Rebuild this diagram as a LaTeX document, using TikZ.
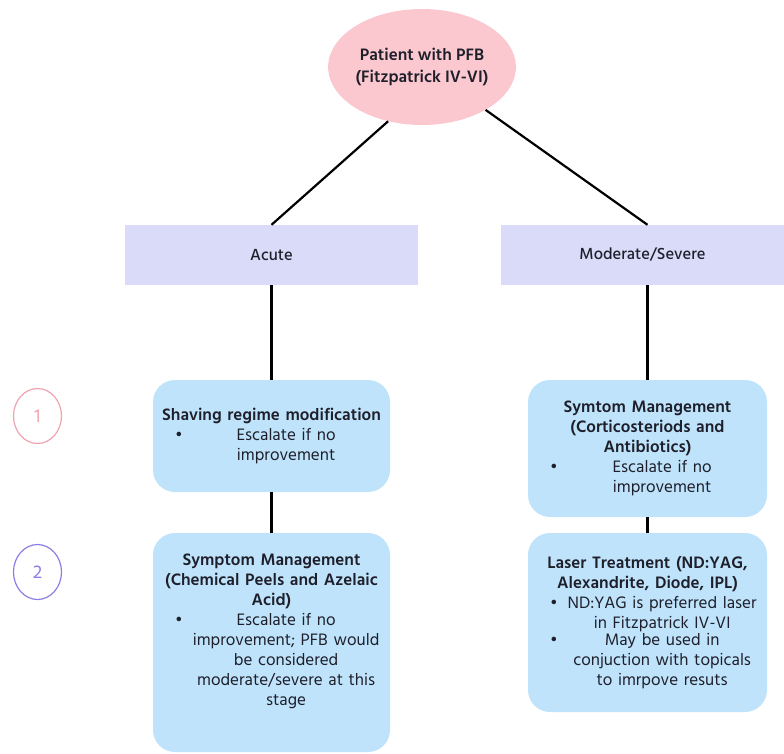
\documentclass[tikz,border=0pt]{standalone}
\usepackage{fontspec}
\setmainfont{Hind Siliguri}
\newfontfamily\stagefont{Hind Siliguri Medium}
\usetikzlibrary{shapes.geometric}

\definecolor{pfbpink}{HTML}{FAC8CE}
\definecolor{stagelav}{HTML}{D9DBF8}
\definecolor{stepblue}{HTML}{BEE3FA}
\definecolor{onepink}{HTML}{EFA3AF}
\definecolor{twopurple}{HTML}{8A7FE2}
\definecolor{inkdark}{HTML}{1F1F2B}

% bullet line: dot on the left, text centred in the rest
\newcommand{\stepitem}[1]{\par\makebox[\linewidth][l]{\hspace*{17pt}\textbullet\hspace*{8pt}%
  \parbox[t]{\dimexpr\linewidth-36pt\relax}{\centering #1}}}

\tikzset{
  stagebox/.style = {rectangle, fill=stagelav, minimum height=60pt, inner sep=0pt,
                     text=inkdark, font=\stagefont\fontsize{16.5}{18}\selectfont},
  stepbox/.style  = {rectangle, rounded corners=22pt, fill=stepblue, inner xsep=5pt, inner ysep=0pt,
                     align=center, text=inkdark, font=\fontsize{17}{20}\selectfont},
  markring/.style = {ellipse, line width=1.2pt, minimum width=48pt, minimum height=55pt,
                     inner sep=0pt, font=\fontsize{19}{20}\selectfont},
  link/.style     = {line width=2.2pt, black}
}

\begin{document}
\begin{tikzpicture}[x=1pt, y=-1pt]
\useasboundingbox (0,0) rectangle (784,753);
%
\node[ellipse, fill=pfbpink, minimum width=186pt, minimum height=116pt, inner sep=0pt,
      align=center, text=inkdark, font=\bfseries\fontsize{17}{22}\selectfont]
  (pfb) at (422,67) {Patient with PFB\\(Fitzpatrick IV-VI)};
%
\node[stagebox, minimum width=293pt] (acute) at (271.5,255) {Acute};
\node[stagebox, minimum width=283pt] (modsev) at (642.5,255) {Moderate/Severe};
%
\node[markring, draw=onepink, text=onepink] (one) at (37.5,416) {1};
\node[markring, draw=twopurple, text=twopurple] (two) at (37.5,572) {2};
%
\node[stepbox, text width=227pt, minimum width=237pt, minimum height=112pt] (shave) at (271.5,436)
  {\textbf{Shaving regime modification}
   \stepitem{Escalate if no\\improvement}};
\node[stepbox, text width=227pt, minimum width=237pt, minimum height=219pt] (peels) at (271.5,642.5)
  {\textbf{Symptom Management}\\\textbf{(Chemical Peels and Azelaic}\\\textbf{Acid)}
   \stepitem{Escalate if no\\improvement; PFB would\\be considered\\moderate/severe at this\\stage}
   \par\vspace*{23pt}};
\node[stepbox, text width=229pt, minimum width=239pt, minimum height=137pt] (abx) at (647.5,448.5)
  {\textbf{Symtom Management}\\\textbf{(Corticosteriods and}\\\textbf{Antibiotics)}
   \stepitem{Escalate if no\\improvement}};
\node[stepbox, text width=229pt, minimum width=239pt, minimum height=179pt] (laser) at (647.5,622.5)
  {\textbf{Laser Treatment (ND:YAG,}\\\textbf{Alexandrite, Diode, IPL)}
   \stepitem{ND:YAG is preferred laser\\in Fitzpatrick IV-VI}
   \stepitem{May be used in\\conjuction with topicals\\to imrpove resuts}};
%
\draw[link] (pfb.238) -- (acute.north);
\draw[link] (pfb.326) -- (modsev.north -| abx.north);
\draw[link] (acute.south) -- (shave.north);
\draw[link] (shave.south) -- (peels.north);
\draw[link] (modsev.south -| abx.north) -- (abx.north);
\draw[link] (abx.south) -- (laser.north);
\end{tikzpicture}
\end{document}
